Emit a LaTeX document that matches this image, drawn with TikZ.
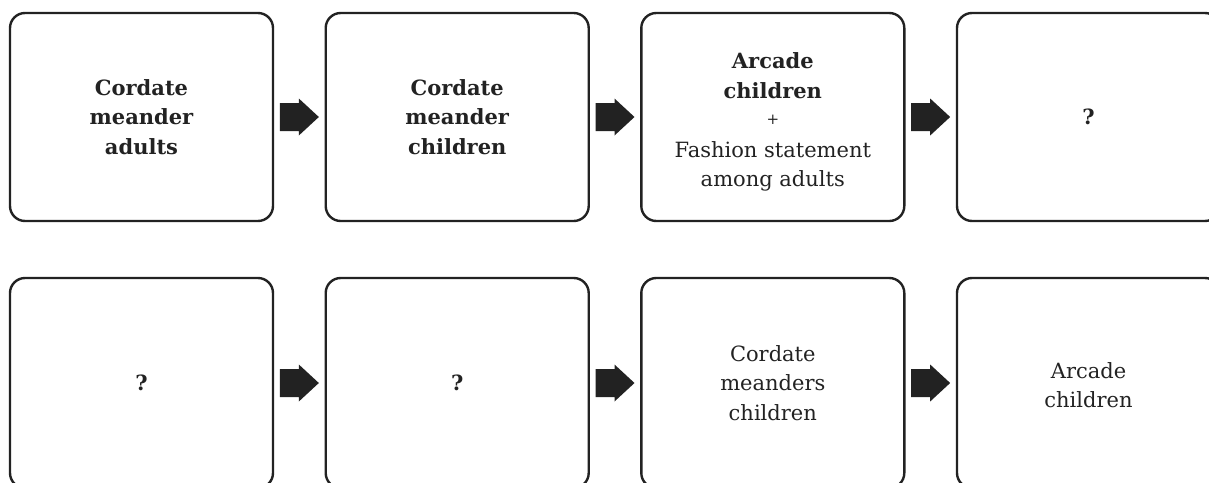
\documentclass[tikz,border=0pt]{standalone}
\usepackage{fontspec}
\setmainfont{DejaVu Serif}
\usetikzlibrary{calc}
\definecolor{ink}{HTML}{222222}
\tikzset{
  stage/.style={draw=ink, line width=2.4pt, rounded corners=15pt, minimum width=263pt, minimum height=208pt, inner sep=0pt, text=ink, align=center, font=\fontsize{21}{29.5}\selectfont},
  boldtxt/.style={font=\fontsize{21}{29.5}\selectfont\bfseries},
  plaintxt/.style={inner sep=0pt, text=ink, align=center, font=\fontsize{21}{29.5}\selectfont},
}
\begin{document}
\begin{tikzpicture}[x=1pt,y=-1pt]
\useasboundingbox (0,0) rectangle (1209,482);
\clip (0,0) rectangle (1209,482);
% row 1
\node[stage, boldtxt] (b1) at (141.5,117) {Cordate\\meander\\adults};
\node[stage, boldtxt] (b2) at (457.2,117) {Cordate\\meander\\children};
\node[stage] (b3) at (772.8,117) {};
\node[plaintxt] (b3t) at ($(b3.center)+(0,5)$) {\textbf{Arcade}\\\textbf{children}\\[-3pt]{\fontsize{15}{29.5}\selectfont +}\\[3pt]Fashion statement\\among adults};
\node[stage, boldtxt] (b4) at (1088.5,117) {?};
% row 2
\node[stage, minimum height=210pt, boldtxt] (c1) at (141.5,383) {?};
\node[stage, minimum height=210pt, boldtxt] (c2) at (457.2,383) {?};
\node[stage, minimum height=210pt] (c3) at (772.8,383) {Cordate\\meanders\\children};
\node[stage, minimum height=210pt] (c4) at (1088.5,383) {};
\node[plaintxt] (c4t) at ($(c4.center)+(0,2)$) {Arcade\\children};
% block arrows
\foreach \a/\b in {b1/b2,b2/b3,b3/b4,c1/c2,c2/c3,c3/c4}{
  \path (\a.east) -- (\b.west) coordinate[midway] (m);
  \fill[ink] ($(m)+(-19.5,-14)$) -- ($(m)+(-0.5,-14)$) -- ($(m)+(-0.5,-18.5)$)
    -- ($(m)+(19.5,0)$) -- ($(m)+(-0.5,18.5)$) -- ($(m)+(-0.5,14)$)
    -- ($(m)+(-19.5,14)$) -- cycle;
}
\end{tikzpicture}
\end{document}
